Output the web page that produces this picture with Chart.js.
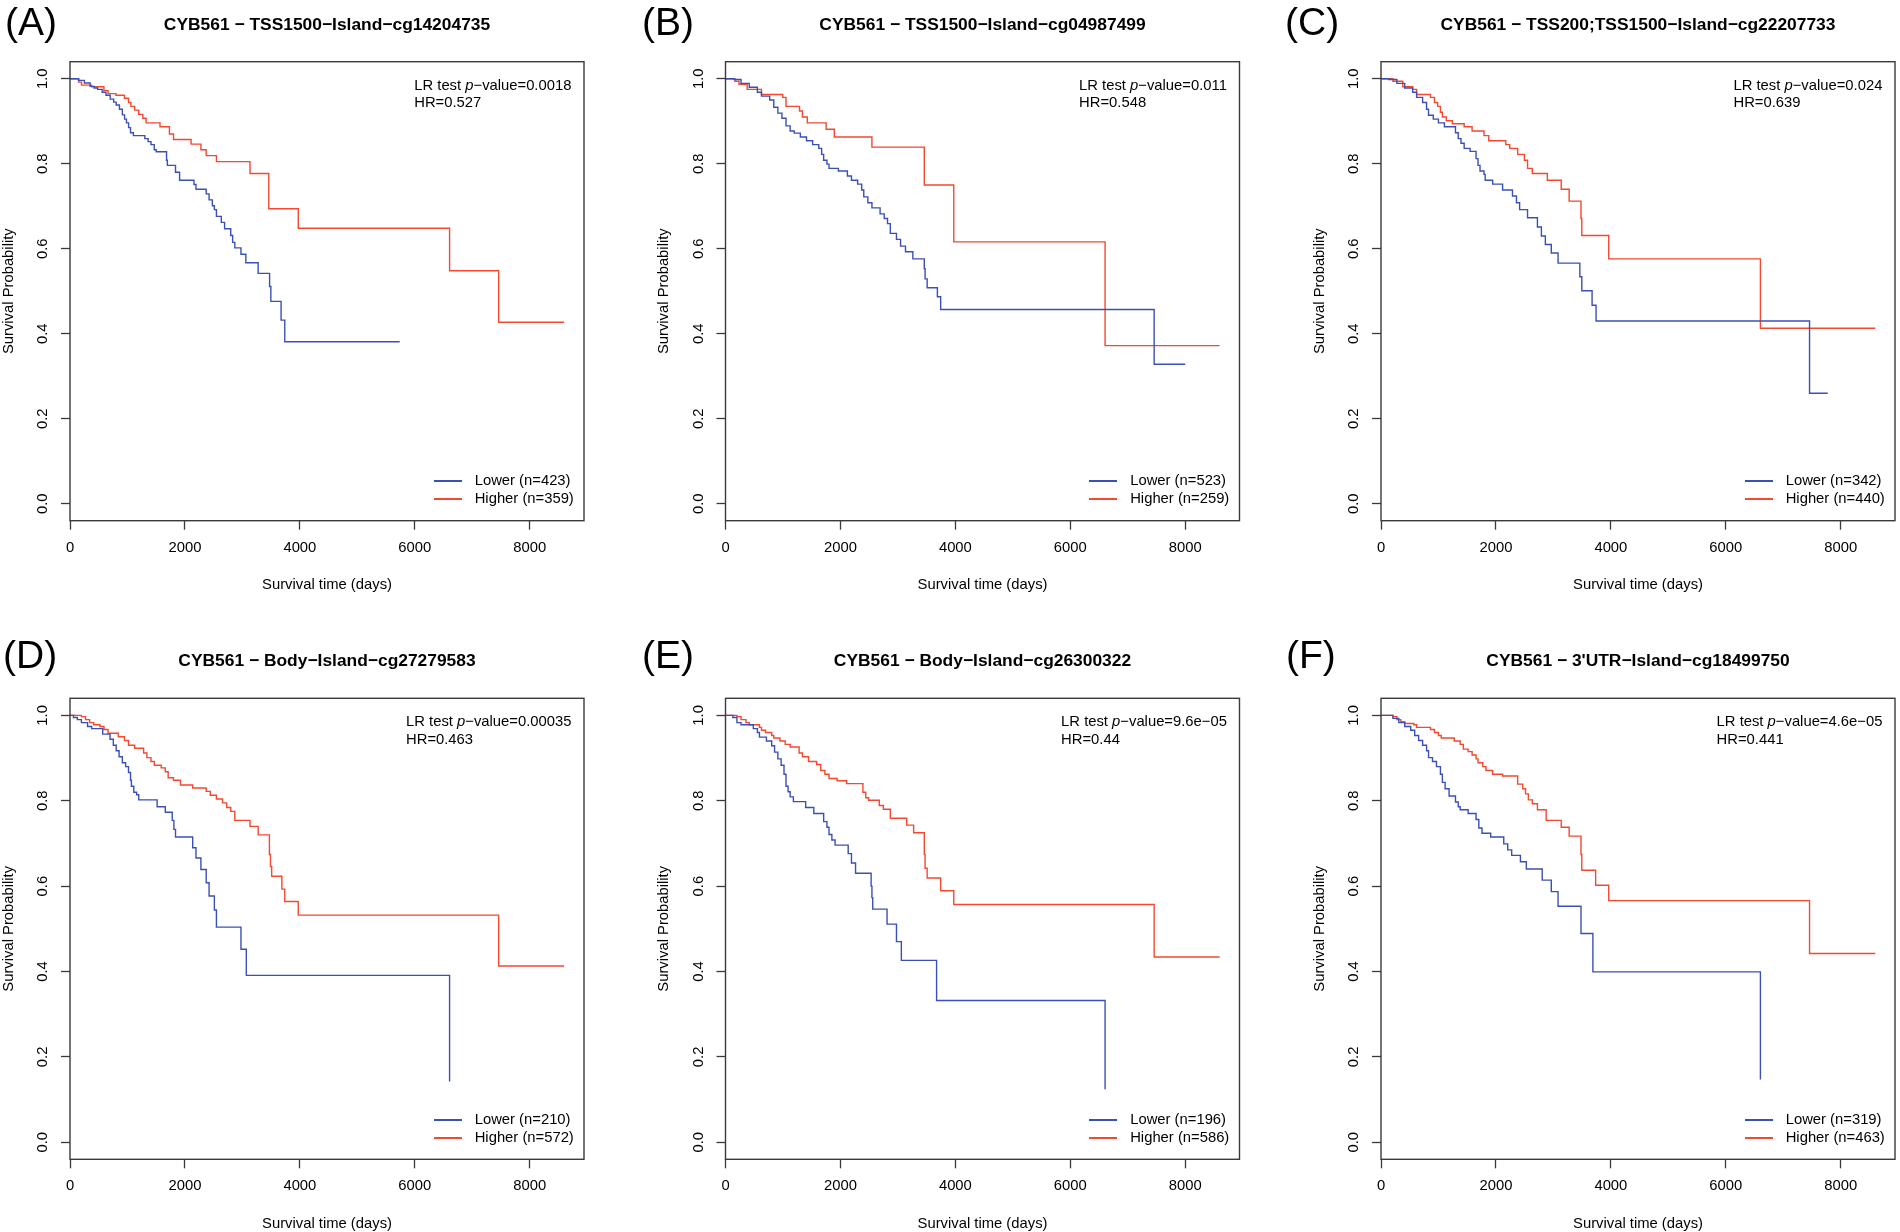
<!DOCTYPE html>
<html><head><meta charset="utf-8">
<script src="https://cdn.jsdelivr.net/npm/chart.js@4.4.1/dist/chart.umd.min.js"></script>
<style>
html,body{margin:0;padding:0;background:#fff;}
body{position:relative;width:1900px;height:1232px;overflow:hidden;font-family:"Liberation Sans",Arial,Helvetica,sans-serif;color:#000;}
canvas{position:absolute;}
.letter{position:absolute;font-size:39px;line-height:39px;white-space:nowrap;}
.stat{position:absolute;font-size:14.8px;line-height:17.6px;white-space:nowrap;}
.stat div{white-space:nowrap;}
.leg{position:absolute;font-size:14.8px;line-height:17.6px;white-space:nowrap;}
.sw{position:absolute;height:2px;width:28px;}
</style></head><body>
<script>
// ---------------- data ----------------
const X_TICKS = [0, 2000, 4000, 6000, 8000];
const Y_TICKS = [0, 0.2, 0.4, 0.6, 0.8, 1.0];
const PANEL_LETTERS = ['(A)', '(B)', '(C)', '(D)', '(E)', '(F)'];
const TITLES = [
  'CYB561 \u2212 TSS1500\u2212Island\u2212cg14204735',
  'CYB561 \u2212 TSS1500\u2212Island\u2212cg04987499',
  'CYB561 \u2212 TSS200;TSS1500\u2212Island\u2212cg22207733',
  'CYB561 \u2212 Body\u2212Island\u2212cg27279583',
  'CYB561 \u2212 Body\u2212Island\u2212cg26300322',
  "CYB561 \u2212 3'UTR\u2212Island\u2212cg18499750"
];
const P_VALUES = ['0.0018', '0.011', '0.024', '0.00035', '9.6e\u221205', '4.6e\u221205'];
const HR_VALUES = ['0.527', '0.548', '0.639', '0.463', '0.44', '0.441'];
const N_LOWER = [423, 523, 342, 210, 196, 319];
const N_HIGHER = [359, 259, 440, 572, 586, 463];

const A_LOWER_T = [0,150,250,350,420,480,560,626,700,760,804,860,911,950,982,1020,1053,1103,1302,1360,1409,1466,1500,1680,1694,1836,1907,2157,2192,2370,2420,2477,2512,2548,2633,2690,2797,2830,2868,2975,3060,3274,3473,3495,3673,3737,5737];
const A_LOWER_S = [1,0.996,0.99,0.982,0.978,0.975,0.968,0.961,0.952,0.945,0.938,0.928,0.915,0.905,0.896,0.885,0.873,0.866,0.859,0.852,0.845,0.833,0.828,0.808,0.796,0.780,0.761,0.751,0.740,0.729,0.715,0.701,0.692,0.676,0.662,0.647,0.631,0.615,0.602,0.587,0.567,0.542,0.511,0.476,0.432,0.381,0.381];
const A_HIGHER_T = [0,150,200,377,590,662,800,947,1018,1060,1125,1196,1267,1324,1566,1730,1801,2107,2278,2370,2548,3132,3459,3972,6605,7459,8598];
const A_HIGHER_S = [1,0.992,0.985,0.981,0.972,0.965,0.961,0.954,0.944,0.935,0.926,0.916,0.907,0.896,0.887,0.870,0.857,0.846,0.833,0.819,0.805,0.777,0.694,0.648,0.548,0.427,0.427];

const B_LOWER_T = [0,150,270,413,555,626,769,840,911,982,1053,1125,1196,1302,1409,1516,1623,1673,1708,1765,1801,1964,2121,2192,2299,2370,2406,2477,2548,2690,2762,2819,2868,2975,3046,3132,3260,3459,3473,3509,3687,3744,7459,8000];
const B_LOWER_S = [1,0.998,0.989,0.980,0.968,0.959,0.950,0.933,0.919,0.907,0.889,0.877,0.872,0.863,0.854,0.845,0.836,0.822,0.808,0.799,0.789,0.783,0.771,0.761,0.752,0.738,0.722,0.708,0.696,0.682,0.671,0.659,0.636,0.622,0.606,0.593,0.576,0.553,0.529,0.508,0.487,0.457,0.328,0.328];
const B_HIGHER_T = [0,164,235,377,626,996,1053,1288,1338,1423,1751,1893,2548,3459,3972,6605,8598];
const B_HIGHER_S = [1,0.994,0.987,0.975,0.963,0.956,0.935,0.924,0.910,0.896,0.881,0.863,0.839,0.750,0.616,0.372,0.372];

const C_LOWER_T = [0,140,276,413,551,620,724,793,827,910,999,1103,1296,1344,1392,1447,1551,1654,1688,1723,1792,1813,1943,2116,2288,2357,2412,2550,2722,2791,2860,2963,3081,3460,3494,3673,3742,7457,7774];
const C_LOWER_S = [1,0.998,0.989,0.978,0.968,0.956,0.944,0.928,0.914,0.905,0.896,0.887,0.873,0.859,0.848,0.836,0.829,0.812,0.796,0.783,0.775,0.761,0.752,0.738,0.724,0.708,0.692,0.673,0.651,0.630,0.610,0.590,0.566,0.534,0.501,0.467,0.430,0.260,0.260];
const C_HIGHER_T = [0,207,379,551,620,861,930,986,1034,1068,1137,1241,1447,1585,1792,1875,2171,2240,2378,2495,2550,2633,2895,3136,3274,3480,3494,3963,6602,8601];
const C_HIGHER_S = [1,0.994,0.981,0.975,0.963,0.956,0.944,0.935,0.921,0.910,0.901,0.894,0.887,0.877,0.866,0.854,0.845,0.836,0.822,0.808,0.789,0.777,0.761,0.740,0.712,0.671,0.631,0.576,0.413,0.413];

const D_LOWER_T = [0,60,128,199,306,377,569,697,754,804,854,911,968,1018,1053,1068,1110,1160,1196,1516,1658,1779,1808,1836,2135,2192,2278,2370,2420,2512,2548,2975,3068,6605];
const D_LOWER_S = [1,0.995,0.990,0.983,0.974,0.969,0.956,0.944,0.930,0.917,0.903,0.889,0.880,0.866,0.848,0.834,0.820,0.814,0.802,0.786,0.773,0.754,0.733,0.715,0.690,0.666,0.639,0.608,0.577,0.544,0.504,0.452,0.391,0.142];
const D_HIGHER_T = [0,199,270,342,413,520,591,662,840,947,1018,1125,1281,1338,1409,1466,1587,1658,1708,1801,1922,2135,2370,2441,2548,2655,2726,2797,2868,3132,3274,3470,3488,3509,3687,3737,3972,7459,8598];
const D_HIGHER_S = [1,0.997,0.990,0.983,0.978,0.974,0.967,0.958,0.950,0.941,0.930,0.923,0.912,0.901,0.892,0.883,0.877,0.868,0.854,0.848,0.837,0.830,0.822,0.813,0.804,0.795,0.784,0.775,0.754,0.740,0.720,0.674,0.646,0.623,0.593,0.564,0.532,0.413,0.413];

const E_LOWER_T = [0,128,199,270,484,555,591,712,804,854,911,968,1018,1053,1089,1125,1181,1395,1537,1708,1765,1801,1851,1907,2135,2192,2263,2534,2548,2562,2811,2975,3060,3673,6605];
const E_LOWER_S = [1,0.995,0.983,0.978,0.969,0.960,0.949,0.940,0.929,0.914,0.898,0.883,0.862,0.834,0.821,0.809,0.798,0.784,0.770,0.751,0.738,0.721,0.708,0.696,0.676,0.654,0.630,0.600,0.573,0.546,0.511,0.470,0.426,0.332,0.124];
const E_HIGHER_T = [0,199,270,356,413,591,626,697,804,840,947,1039,1125,1281,1338,1445,1587,1658,1730,1801,1943,2107,2391,2441,2491,2676,2747,2868,3153,3274,3459,3473,3509,3744,3972,7459,8598];
const E_HIGHER_S = [1,0.997,0.990,0.983,0.978,0.972,0.965,0.960,0.953,0.947,0.940,0.932,0.926,0.912,0.903,0.892,0.885,0.871,0.862,0.852,0.847,0.840,0.820,0.807,0.801,0.789,0.780,0.759,0.743,0.725,0.674,0.642,0.619,0.589,0.557,0.434,0.434];

const F_LOWER_T = [0,207,310,413,517,586,655,724,793,827,896,965,1034,1068,1116,1185,1296,1344,1378,1516,1654,1702,1757,1909,2136,2205,2274,2426,2529,2805,2963,3081,3480,3687,6602];
const F_LOWER_S = [1,0.993,0.983,0.974,0.965,0.953,0.941,0.930,0.917,0.901,0.892,0.880,0.862,0.843,0.828,0.811,0.797,0.786,0.779,0.770,0.756,0.736,0.724,0.715,0.699,0.685,0.672,0.657,0.640,0.614,0.587,0.553,0.489,0.399,0.147];
const F_HIGHER_T = [0,207,276,345,413,572,620,861,930,999,1048,1275,1378,1433,1516,1585,1654,1688,1771,1826,1943,2116,2378,2467,2515,2564,2633,2722,2874,3136,3274,3480,3494,3735,3963,7457,8601];
const F_HIGHER_S = [1,0.997,0.990,0.985,0.981,0.978,0.972,0.967,0.960,0.953,0.947,0.940,0.932,0.921,0.915,0.907,0.898,0.889,0.880,0.871,0.862,0.858,0.839,0.828,0.816,0.802,0.793,0.779,0.754,0.738,0.717,0.674,0.637,0.602,0.566,0.442,0.442];

// ---------------- layout / style ----------------
const X_MAX = 8944;          // 0 .. max time + 4% (R xaxs="S")
const Y_MIN = -0.04, Y_MAX = 1.04;
const BLUE = '#3B50B6';
const RED = '#F4482F';
const AXIS_COLOR = '#3a3a3a';
const FONT = '"Liberation Sans", Arial, Helvetica, sans-serif';

const COL_BOX_LEFT = [70, 725.5, 1381];
const BOX_W = 514;
const ROW_BOX_TOP = [61.7, 698.3];
const ROW_BOX_BOTTOM = [520.7, 1159.3];
const ROW_CANVAS_TOP = [0, 636];
const LETTER_LEFT = [5, 642, 1285, 3, 642, 1286];
const ROW_LETTER_TOP = [2, 634.7];
const X_AXIS_H = 72;
const Y_AXIS_W = 70;

const SERIES = [
  [A_LOWER_T, A_LOWER_S, A_HIGHER_T, A_HIGHER_S],
  [B_LOWER_T, B_LOWER_S, B_HIGHER_T, B_HIGHER_S],
  [C_LOWER_T, C_LOWER_S, C_HIGHER_T, C_HIGHER_S],
  [D_LOWER_T, D_LOWER_S, D_HIGHER_T, D_HIGHER_S],
  [E_LOWER_T, E_LOWER_S, E_HIGHER_T, E_HIGHER_S],
  [F_LOWER_T, F_LOWER_S, F_HIGHER_T, F_HIGHER_S]
];

function zip(t, s) {
  const n = Math.min(t.length, s.length);
  const out = [];
  for (let i = 0; i < n; i++) out.push({x: t[i], y: s[i]});
  return out;
}

Chart.defaults.font.family = FONT;
Chart.defaults.color = '#000';

const boxPlugin = {
  id: 'plotBox',
  afterDraw(chart) {
    const {ctx, chartArea: a} = chart;
    ctx.save();
    ctx.strokeStyle = AXIS_COLOR;
    ctx.lineWidth = 1.4;
    ctx.strokeRect(a.left, a.top, a.right - a.left, a.bottom - a.top);
    ctx.restore();
  }
};

function el(cls, css) {
  const d = document.createElement('div');
  d.className = cls;
  Object.assign(d.style, css);
  document.body.appendChild(d);
  return d;
}

for (let i = 0; i < 6; i++) {
  const col = i % 3, row = Math.floor(i / 3);
  const boxL = COL_BOX_LEFT[col], boxR = boxL + BOX_W;
  const boxT = ROW_BOX_TOP[row], boxB = ROW_BOX_BOTTOM[row];
  const cL = Math.floor(boxL - Y_AXIS_W);
  const cT = ROW_CANVAS_TOP[row];
  const cW = Math.min(1900, Math.ceil(boxR + 5)) - cL;
  const cH = Math.min(1232, Math.ceil(boxB + X_AXIS_H)) - cT;
  const yW = boxL - cL;
  const padR = cW - (boxR - cL);
  const padB = cH - (boxB + X_AXIS_H - cT);
  const relTop = boxT - cT;
  const titleLH = 17.4 * 1.2;
  const titleCenter = relTop - 36.7;
  const pt = titleCenter - titleLH / 2;
  const pb = relTop - pt - titleLH;

  const cv = document.createElement('canvas');
  cv.width = cW; cv.height = cH;
  cv.style.left = cL + 'px'; cv.style.top = cT + 'px';
  cv.style.width = cW + 'px'; cv.style.height = cH + 'px';
  document.body.appendChild(cv);

  const [lt, ls, ht, hs] = SERIES[i];
  const gridOpts = {drawOnChartArea: false, drawTicks: true, tickLength: 9, tickColor: AXIS_COLOR, tickWidth: 1.3};

  new Chart(cv, {
    type: 'line',
    data: {
      datasets: [
        {label: 'Lower (n=' + N_LOWER[i] + ')', data: zip(lt, ls), borderColor: BLUE, backgroundColor: BLUE,
         borderWidth: 1.4, stepped: 'before', pointRadius: 0, pointHoverRadius: 0, fill: false, borderJoinStyle: 'miter'},
        {label: 'Higher (n=' + N_HIGHER[i] + ')', data: zip(ht, hs), borderColor: RED, backgroundColor: RED,
         borderWidth: 1.4, stepped: 'before', pointRadius: 0, pointHoverRadius: 0, fill: false, borderJoinStyle: 'miter'}
      ]
    },
    options: {
      responsive: false,
      animation: false,
      events: [],
      layout: {padding: {left: 0, top: 0, right: padR, bottom: padB}},
      plugins: {
        legend: {display: false},
        tooltip: {enabled: false},
        title: {display: true, text: TITLES[i], fullSize: false, color: '#000',
                font: {family: FONT, size: 17.4, weight: 'bold', lineHeight: 1.2},
                padding: {top: pt, bottom: pb}}
      },
      scales: {
        x: {
          type: 'linear', min: 0, max: X_MAX,
          afterBuildTicks: s => { s.ticks = X_TICKS.map(v => ({value: v})); },
          afterFit: s => { s.height = X_AXIS_H; },
          ticks: {autoSkip: false, minRotation: 0, maxRotation: 0, padding: 9.2, color: '#000',
                  font: {size: 14.8}, callback: v => String(v)},
          grid: gridOpts,
          border: {display: false},
          title: {display: true, text: 'Survival time (days)', color: '#000',
                  font: {size: 14.8, lineHeight: 1.0}, padding: {top: 0, bottom: 0.35}}
        },
        y: {
          type: 'linear', min: Y_MIN, max: Y_MAX,
          afterBuildTicks: s => { s.ticks = Y_TICKS.map(v => ({value: v})); },
          afterFit: s => { s.width = yW; },
          ticks: {autoSkip: false, minRotation: 90, maxRotation: 90, crossAlign: 'center', padding: 7.8,
                  color: '#000', font: {size: 14.8}, callback: v => Number(v).toFixed(1)},
          grid: gridOpts,
          border: {display: false},
          title: {display: true, text: 'Survival Probability', color: '#000',
                  font: {size: 14.8, lineHeight: 1.2}, padding: {top: 0.12, bottom: 0}}
        }
      }
    },
    plugins: [boxPlugin]
  });

  // panel letter
  const L = el('letter', {left: LETTER_LEFT[i] + 'px', top: ROW_LETTER_TOP[row] + 'px'});
  L.textContent = PANEL_LETTERS[i];

  // LR test / HR text (top-right, left aligned block)
  const st = el('stat', {right: (1900 - (boxR - 12.6)) + 'px', top: (boxT + 15.07) + 'px'});
  const l1 = document.createElement('div');
  l1.appendChild(document.createTextNode('LR test '));
  const it = document.createElement('i'); it.textContent = 'p'; l1.appendChild(it);
  l1.appendChild(document.createTextNode('\u2212value=' + P_VALUES[i]));
  const l2 = document.createElement('div');
  l2.textContent = 'HR=' + HR_VALUES[i];
  st.appendChild(l1); st.appendChild(l2);

  // legend (bottom-right)
  const legRows = [['Lower (n=' + N_LOWER[i] + ')', BLUE], ['Higher (n=' + N_HIGHER[i] + ')', RED]];
  legRows.forEach((r, k) => {
    const lineY = boxB - 39.7 + k * 18;
    el('sw', {left: (boxR - 150.3) + 'px', top: (lineY - 1) + 'px', background: r[1]});
    const t = el('leg', {left: (boxR - 109.3) + 'px', top: (lineY + 5.3 - 13.93) + 'px'});
    t.textContent = r[0];
  });
}
</script>
</body></html>
